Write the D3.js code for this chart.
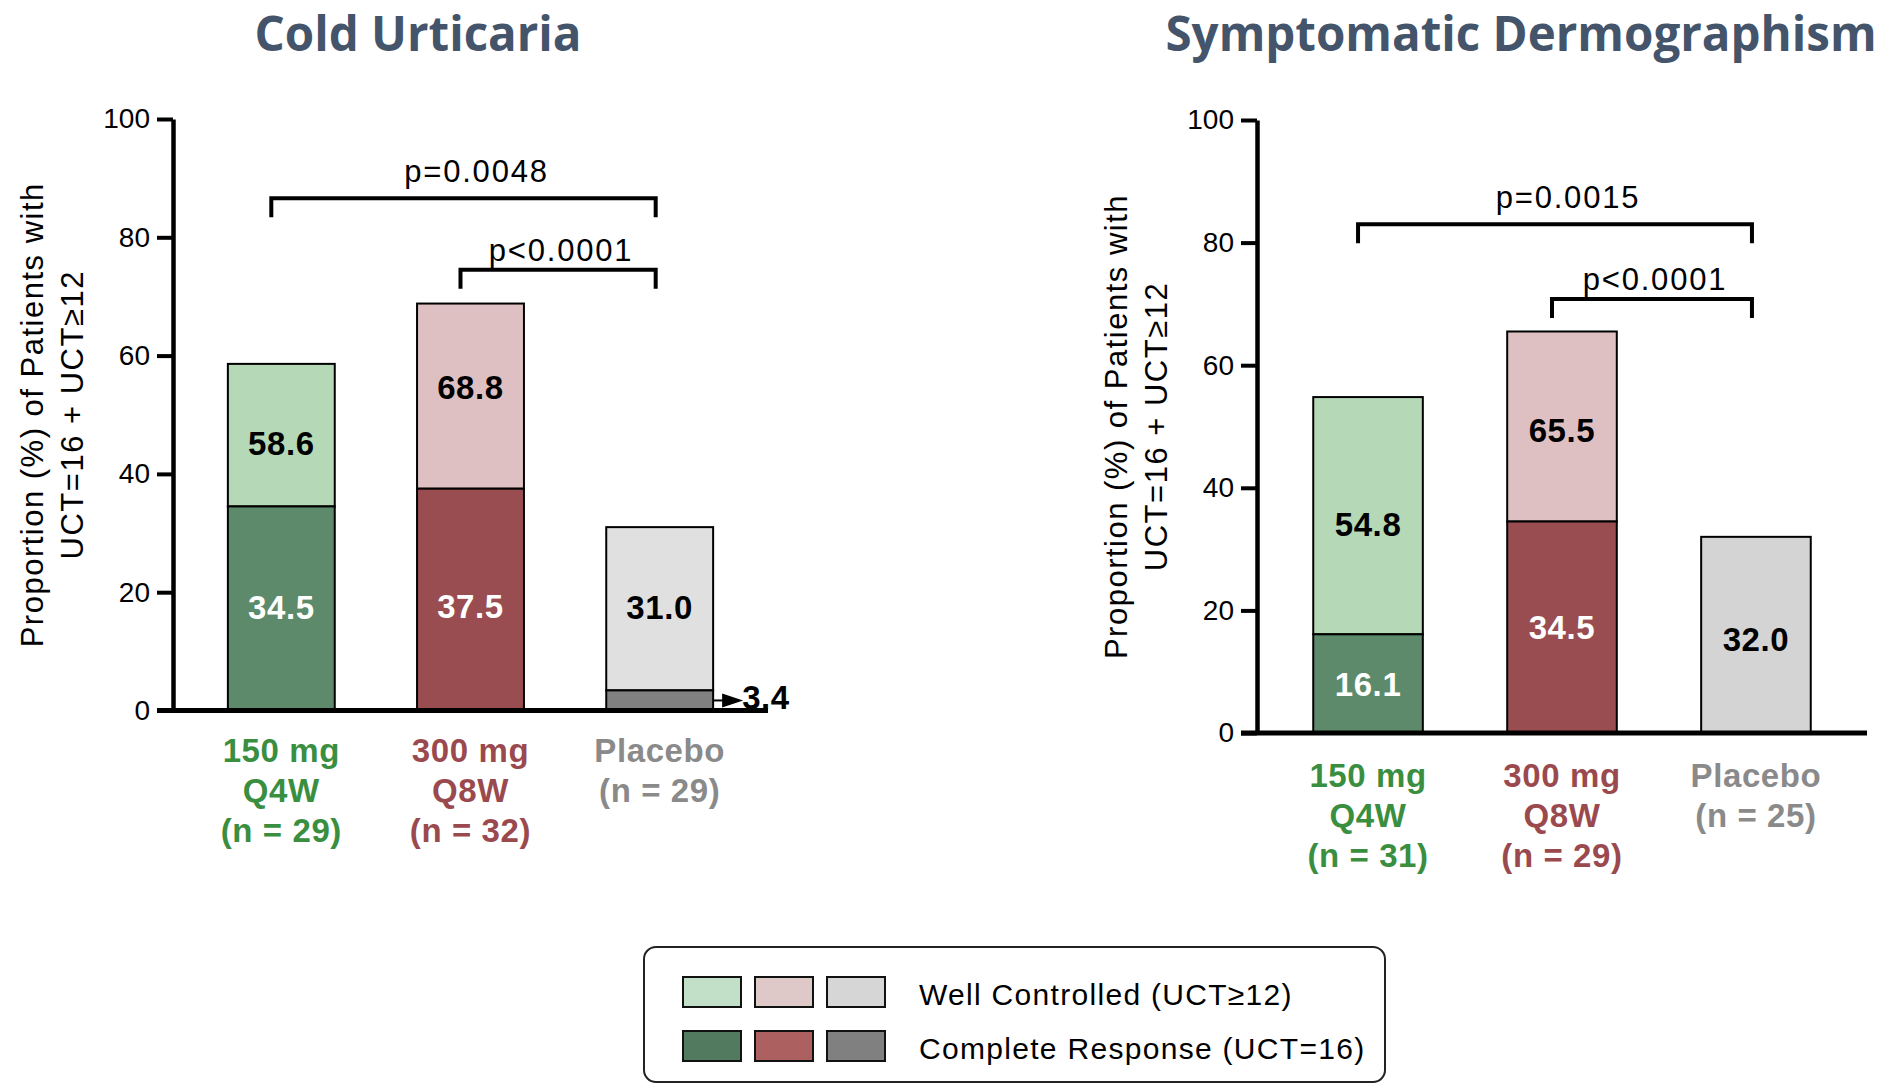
<!DOCTYPE html>
<html>
<head>
<meta charset="utf-8">
<script src="https://cdn.jsdelivr.net/npm/d3@7"></script>
<style>
  html, body { margin: 0; padding: 0; background: #ffffff; }
  svg { display: block; }
  text { font-family: "Liberation Sans", Arial, Helvetica, sans-serif; }
  .title { font-family: "Open Sans", "Liberation Sans", sans-serif; font-weight: 700; fill: #44546a; }
</style>
</head>
<body>
<svg id="chart" width="1896" height="1085"></svg>
<script>
// ---- data ----
const groups = ["150 mg Q4W", "300 mg Q8W", "Placebo"];
const groupLines = [["150 mg", "Q4W"], ["300 mg", "Q8W"], ["Placebo"]];
const yTicks = [0, 20, 40, 60, 80, 100];

// Cold urticaria: % with complete response (UCT=16) and cumulative well controlled (UCT>=12)
const coldN = [29, 32, 29];
const coldComplete = [34.5, 37.5, 3.4];
const coldWellControlled = [58.6, 68.8, 31.0];
const coldComparisons = [[0, 2], [1, 2]];
const coldPValues = ["p=0.0048", "p<0.0001"];

// Symptomatic dermographism
const dermN = [31, 29, 25];
const dermComplete = [16.1, 34.5, 0];
const dermWellControlled = [54.8, 65.5, 32.0];
const dermComparisons = [[0, 2], [1, 2]];
const dermPValues = ["p=0.0015", "p<0.0001"];

const legendLabels = ["Well Controlled (UCT\u226512)", "Complete Response (UCT=16)"];

// ---- styling ----
const lightFill = ["#b5d9b7", "#dfc0c2", null];
const darkFill = ["#5c8a6a", "#9a4d50", "#808080"];
const labelColor = ["#3a8e3f", "#9a4a4e", "#8a8a8a"];
const legendLight = ["#c2e0c8", "#dec8c8", "#d6d6d6"];
const legendDark = ["#527a5e", "#ad6060", "#808080"];

const svg = d3.select("#chart");

function drawPanel(cfg) {
  const g = svg.append("g");
  const x = d3.scaleBand().domain(groups).range([cfg.axisX, cfg.xEnd])
    .paddingInner(0.435).paddingOuter(0.29);
  const y = d3.scaleLinear().domain([0, 100]).range([cfg.y0, cfg.y100]);
  const bw = x.bandwidth();

  // title
  g.append("text").attr("class", "title")
    .attr("x", cfg.titleX).attr("y", 51)
    .attr("text-anchor", "middle").attr("font-size", 47.5)
    .text(cfg.title);

  // y-axis title (two lines)
  const ymid = (cfg.y0 + cfg.y100) / 2;
  ["Proportion (%) of Patients with", "UCT=16 + UCT\u226512"].forEach((t, i) => {
    g.append("text")
      .attr("transform", `translate(${cfg.axisX - 130 + i * 40},${ymid}) rotate(-90)`)
      .attr("text-anchor", "middle")
      .attr("font-size", 31).attr("letter-spacing", 1.5)
      .attr("fill", "#000")
      .text(t);
  });

  // bars: complete response segment, then well-controlled segment on top
  const rows = groups.map((k, i) => ({
    key: k, i,
    complete: cfg.complete[i],
    total: cfg.well[i]
  }));

  const bars = g.append("g").selectAll("g").data(rows).join("g");

  bars.append("rect")
    .attr("x", d => x(d.key)).attr("width", bw)
    .attr("y", d => y(d.total)).attr("height", d => y(d.complete) - y(d.total))
    .attr("fill", d => d.i === 2 ? cfg.placeboLight : lightFill[d.i])
    .attr("stroke", "#000").attr("stroke-width", 2);

  bars.filter(d => d.complete > 0).append("rect")
    .attr("x", d => x(d.key)).attr("width", bw)
    .attr("y", d => y(d.complete)).attr("height", d => y(0) - y(d.complete))
    .attr("fill", d => darkFill[d.i])
    .attr("stroke", "#000").attr("stroke-width", 2);

  // value labels
  const fmt = d3.format(".1f");
  const boldText = s => s.attr("font-size", 33).attr("font-weight", 700).attr("letter-spacing", 0.6);

  bars.append("text")
    .attr("x", d => x(d.key) + bw / 2)
    .attr("y", d => (y(d.total) + y(d.complete)) / 2 + cfg.topNudge[d.i])
    .attr("text-anchor", "middle").attr("dominant-baseline", "central")
    .call(boldText)
    .attr("fill", "#000")
    .text(d => fmt(d.total));

  bars.filter(d => d.complete >= 10).append("text")
    .attr("x", d => x(d.key) + bw / 2)
    .attr("y", d => (y(0) + y(d.complete)) / 2 + cfg.baseNudge[d.i])
    .attr("text-anchor", "middle").attr("dominant-baseline", "central")
    .call(boldText)
    .attr("fill", "#fff")
    .text(d => fmt(d.complete));

  // small segment: label outside with an arrow
  const small = bars.filter(d => d.complete > 0 && d.complete < 10);
  small.append("line")
    .attr("x1", d => x(d.key) + bw).attr("x2", d => x(d.key) + bw + 12)
    .attr("y1", d => y(d.complete / 2)).attr("y2", d => y(d.complete / 2))
    .attr("stroke", "#000").attr("stroke-width", 2);
  small.append("path")
    .attr("d", d => {
      const x0 = x(d.key) + bw + 9, yc = y(d.complete / 2);
      return `M${x0},${yc - 7}L${x0 + 21},${yc}L${x0},${yc + 7}Z`;
    })
    .attr("fill", "#000");
  small.append("text")
    .attr("x", d => x(d.key) + bw + 29)
    .attr("y", y(0) - 2)
    .call(boldText)
    .attr("fill", "#000")
    .text(d => fmt(d.complete));

  // y axis
  const yAxis = g.append("g")
    .attr("transform", `translate(${cfg.axisX},0)`)
    .call(d3.axisLeft(y).tickValues(yTicks).tickSize(16).tickSizeOuter(0).tickPadding(7));
  yAxis.select(".domain").attr("stroke", "#000").attr("stroke-width", 4.5);
  yAxis.selectAll(".tick line").attr("stroke", "#000").attr("stroke-width", 4);
  yAxis.selectAll(".tick text")
    .attr("font-size", 28).attr("fill", "#000")
    .attr("font-family", "'Liberation Sans', Arial, sans-serif");

  // x axis baseline
  g.append("line")
    .attr("x1", cfg.axisX - 16).attr("x2", cfg.xEnd)
    .attr("y1", y(0)).attr("y2", y(0))
    .attr("stroke", "#000").attr("stroke-width", 5);

  // category labels
  rows.forEach(d => {
    const lines = groupLines[d.i].concat([`(n = ${cfg.n[d.i]})`]);
    const t = g.append("text")
      .attr("text-anchor", "middle")
      .call(boldText)
      .attr("fill", labelColor[d.i]);
    lines.forEach((ln, j) => {
      t.append("tspan")
        .attr("x", x(d.key) + bw / 2)
        .attr("y", y(0) + cfg.catOffset + j * 40)
        .text(ln);
    });
  });

  // significance brackets
  cfg.comparisons.forEach((c, k) => {
    const xa = x(groups[c[0]]) + bw / 2 - 10;
    const xb = x(groups[c[1]]) + bw / 2 - 4;
    const yl = y(cfg.bracketLevels[k]);
    const drop = 19;
    g.append("path")
      .attr("d", `M${xa},${yl + drop}V${yl}H${xb}V${yl + drop}`)
      .attr("fill", "none").attr("stroke", "#000").attr("stroke-width", 4);
    g.append("text")
      .attr("x", (xa + xb) / 2 + (k === 0 ? 13 : 3))
      .attr("y", yl - (k === 0 ? 16 : 9))
      .attr("text-anchor", "middle")
      .attr("font-size", 31).attr("letter-spacing", 1.8)
      .attr("fill", "#000")
      .text(cfg.pValues[k]);
  });
}

drawPanel({
  title: "Cold Urticaria", titleX: 418,
  axisX: 173, xEnd: 768, y0: 710.5, y100: 119,
  n: coldN, complete: coldComplete, well: coldWellControlled,
  comparisons: coldComparisons, pValues: coldPValues,
  bracketLevels: [86.6, 74.5],
  topNudge: [8, -9, -1], baseNudge: [-1, 7, 0],
  catOffset: 51,
  placeboLight: "#e0e0e0"
});

drawPanel({
  title: "Symptomatic Dermographism", titleX: 1521,
  axisX: 1257, xEnd: 1867, y0: 733, y100: 120,
  n: dermN, complete: dermComplete, well: dermWellControlled,
  comparisons: dermComparisons, pValues: dermPValues,
  bracketLevels: [83.0, 70.8],
  topNudge: [9, 4, 5], baseNudge: [1, 0, 0],
  catOffset: 54,
  placeboLight: "#d4d4d4"
});

// ---- legend ----
const lg = svg.append("g");
lg.append("rect")
  .attr("x", 644).attr("y", 947).attr("width", 741).attr("height", 135)
  .attr("rx", 12).attr("ry", 12)
  .attr("fill", "#fff").attr("stroke", "#222").attr("stroke-width", 2);

const swX = d3.scalePoint().domain(d3.range(3)).range([683, 827]);
[legendLight, legendDark].forEach((cols, r) => {
  const yy = 977 + r * 54;
  cols.forEach((c, i) => {
    lg.append("rect")
      .attr("x", swX(i)).attr("y", yy).attr("width", 58).attr("height", 30)
      .attr("fill", c).attr("stroke", "#111").attr("stroke-width", 2);
  });
  lg.append("text")
    .attr("x", 919).attr("y", yy + 28)
    .attr("font-size", 30).attr("letter-spacing", 1.3)
    .attr("fill", "#000")
    .text(legendLabels[r]);
});
</script>
</body>
</html>
